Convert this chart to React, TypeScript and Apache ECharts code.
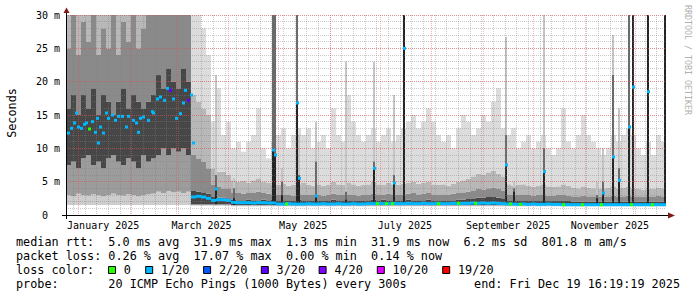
import React, { useEffect, useRef } from "react";
import * as echarts from "echarts";

// ---------- time frame ----------
const START_UTC = Date.UTC(2024, 11, 24, 16, 19, 19); // end - 360 days
const SPAN_DAYS = 360;
const BIN_DAYS = 3;
const monthStartDates = [
  "2025-01-01", "2025-02-01", "2025-03-01", "2025-04-01", "2025-05-01", "2025-06-01",
  "2025-07-01", "2025-08-01", "2025-09-01", "2025-10-01", "2025-11-01", "2025-12-01",
];
const firstWeekLineDate = "2024-12-29";
const axisLabelDates = ["2025-01-16", "2025-03-16", "2025-05-16", "2025-07-16", "2025-09-16", "2025-11-16"];
const axisLabelTexts = ["January 2025", "March 2025", "May 2025", "July 2025", "September 2025", "November 2025"];
const yLabelTicks = [0, 5, 10, 15, 20, 25, 30];

// ---------- smoke (ms), one value per 3-day bin ----------
const smokeMin = [
  1.5, 1.5, 1.5, 1.5, 1.5, 1.5, 1.5, 1.5, 1.5, 1.5,
  1.5, 1.5, 1.5, 1.5, 1.5, 1.5, 1.5, 1.5, 1.5, 1.5,
  1.5, 1.5, 1.5, 1.5, 1.5, 1.4, 1.4, 1.4, 1.4, 1.4,
  1.4, 1.4, 1.4, 1.3, 1.3, 1.3, 1.3, 1.3, 1.3, 1.3,
  1.3, 1.3, 1.3, 1.3, 1.3, 1.3, 1.3, 1.3, 1.3, 1.3,
  1.3, 1.3, 1.3, 1.3, 1.3, 1.3, 1.3, 1.3, 1.3, 1.3,
  1.3, 1.3, 1.3, 1.3, 1.3, 1.3, 1.3, 1.3, 1.3, 1.3,
  1.3, 1.3, 1.3, 1.3, 1.3, 1.3, 1.3, 1.3, 1.3, 1.3,
  1.3, 1.3, 1.3, 1.3, 1.3, 1.3, 1.3, 1.3, 1.3, 1.3,
  1.3, 1.3, 1.3, 1.3, 1.3, 1.3, 1.3, 1.3, 1.3, 1.3,
  1.3, 1.3, 1.3, 1.3, 1.3, 1.3, 1.3, 1.3, 1.3, 1.3,
  1.3, 1.3, 1.3, 1.3, 1.3, 1.3, 1.3, 1.3, 1.3, 1.3,
];
const smokeLow = [
  3.0, 2.8, 3.2, 3.0, 2.9, 3.1, 3.0, 2.8, 3.0, 3.2,
  3.0, 2.9, 3.1, 3.0, 2.8, 3.0, 3.1, 3.2, 3.5, 3.3,
  3.6, 3.4, 3.5, 3.3, 3.5, 1.5, 1.5, 1.5, 1.5, 1.5,
  1.5, 1.5, 1.5, 1.4, 1.4, 1.4, 1.4, 1.4, 1.4, 1.4,
  1.4, 1.4, 1.4, 1.4, 1.4, 1.4, 1.4, 1.4, 1.4, 1.4,
  1.4, 1.4, 1.4, 1.4, 1.4, 1.4, 1.4, 1.4, 1.4, 1.4,
  1.4, 1.4, 1.4, 1.4, 1.4, 1.4, 1.4, 1.4, 1.4, 1.4,
  1.4, 1.4, 1.4, 1.4, 1.4, 1.4, 1.4, 1.4, 1.4, 1.4,
  1.4, 1.4, 1.4, 1.4, 1.4, 1.4, 1.4, 1.4, 1.4, 1.4,
  1.4, 1.4, 1.4, 1.4, 1.4, 1.4, 1.4, 1.4, 1.4, 1.4,
  1.4, 1.4, 1.4, 1.4, 1.4, 1.4, 1.4, 1.4, 1.4, 1.4,
  1.4, 1.4, 1.4, 1.4, 1.4, 1.4, 1.4, 1.4, 1.4, 1.4,
];
const smokeCoreLow = [
  7.5, 8, 7, 8.5, 9, 7.5, 8, 7, 8.5, 9,
  8, 7.5, 8.5, 8, 7, 9, 8, 8.5, 9, 10,
  9, 10, 9.5, 10, 9, 1.6, 1.6, 1.6, 1.6, 1.6,
  1.6, 1.6, 1.6, 1.5, 1.5, 1.5, 1.5, 1.5, 1.5, 1.5,
  1.5, 1.5, 1.5, 1.5, 1.5, 1.5, 1.5, 1.5, 1.5, 1.5,
  1.5, 1.5, 1.5, 1.5, 1.5, 1.5, 1.5, 1.5, 1.5, 1.5,
  1.5, 1.5, 1.5, 1.5, 1.5, 1.5, 1.5, 1.5, 1.5, 1.5,
  1.5, 1.5, 1.5, 1.5, 1.5, 1.5, 1.5, 1.5, 1.5, 1.5,
  1.5, 1.5, 1.5, 1.5, 1.5, 1.5, 1.5, 1.5, 1.5, 1.5,
  1.5, 1.5, 1.5, 1.5, 1.5, 1.5, 1.5, 1.5, 1.5, 1.5,
  1.5, 1.5, 1.5, 1.5, 1.5, 1.5, 1.5, 1.5, 1.5, 1.5,
  1.5, 1.5, 1.5, 1.5, 1.5, 1.5, 1.5, 1.5, 1.5, 1.5,
];
const smokeCoreHigh = [
  16, 18, 15, 18, 16, 19, 15, 18, 17, 15,
  17, 19, 16, 18, 17, 16, 17, 18, 21, 19,
  22, 20, 19, 22, 20, 3.6, 3.5, 3.4, 3.2, 2.7,
  2.6, 2.6, 2.5, 2.3, 2.2, 2.2, 2.3, 2.2, 2.2, 2.3,
  2.2, 2.3, 2.2, 2.2, 2.2, 2.2, 2.3, 2.2, 2.2, 2.2,
  2.2, 2.2, 2.2, 2.3, 2.2, 2.2, 2.2, 2.2, 2.2, 2.2,
  2.2, 2.3, 2.2, 2.3, 2.2, 2.2, 2.2, 2.2, 2.3, 2.2,
  2.2, 2.2, 2.3, 2.2, 2.2, 2.2, 2.2, 2.2, 2.3, 2.3,
  2.4, 2.5, 2.6, 2.6, 2.7, 2.7, 2.6, 2.5, 2.2, 2.2,
  2.2, 2.2, 2.2, 2.2, 2.2, 2.2, 2.1, 2.1, 2.1, 2.1,
  2.1, 2.0, 2.0, 2.0, 2.0, 2.0, 2.0, 2.0, 2.0, 2.0,
  2.0, 2.0, 2.0, 2.0, 2.0, 2.0, 2.0, 2.0, 2.0, 2.0,
];
const smokeMidHigh = [
  25, 30, 24, 29, 26, 31, 24, 28, 25, 30,
  24, 29, 26, 31, 25, 28, 30, 31, 31, 31,
  31, 31, 31, 31, 31, 9, 8.5, 8, 7, 4.5,
  4.2, 4, 4, 3.4, 3.3, 3.2, 3.4, 3.3, 3.5, 3.3,
  3.2, 3.1, 3.0, 3.1, 3.0, 2.9, 3.1, 3.0, 3.0, 3.1,
  3.0, 2.9, 3.0, 3.2, 3.0, 3.0, 3.1, 3.0, 2.9, 3.0,
  3.0, 3.2, 3.1, 3.0, 3.2, 3.1, 3.0, 3.1, 3.2, 3.3,
  3.1, 3.2, 3.3, 3.1, 3.0, 3.1, 3.0, 3.2, 3.3, 3.4,
  3.5, 3.7, 3.9, 3.8, 4.0, 4.1, 3.9, 3.6, 3.1, 3.0,
  3.0, 3.1, 3.0, 2.9, 3.0, 3.1, 2.9, 2.9, 3.0, 3.0,
  2.9, 2.8, 2.8, 2.9, 2.8, 2.8, 2.7, 2.8, 2.8, 2.9,
  2.8, 2.8, 2.9, 2.8, 2.8, 2.7, 2.8, 2.8, 2.9, 2.8,
];
const smokeSoftHigh = [
  31, 31, 31, 31, 31, 31, 31, 31, 31, 31,
  31, 31, 31, 31, 31, 31, 31, 31, 32, 32,
  32, 32, 32, 32, 32, 18, 17, 16, 15, 7,
  6.5, 6.5, 6, 5.2, 5.0, 5.1, 4.8, 5.2, 5.5, 5.0,
  4.8, 4.6, 4.5, 4.7, 4.4, 4.5, 4.6, 4.8, 4.5, 4.4,
  4.6, 4.4, 4.5, 5.0, 4.6, 4.5, 4.8, 4.6, 4.4, 4.5,
  4.6, 5.0, 4.6, 4.5, 4.8, 4.6, 4.5, 4.7, 4.8, 5.0,
  4.7, 4.8, 5.0, 4.6, 4.5, 4.6, 4.4, 4.7, 5.0, 5.2,
  5.4, 5.8, 6.2, 6.0, 6.4, 6.6, 6.2, 5.8, 4.6, 4.4,
  4.5, 4.6, 4.4, 4.2, 4.4, 4.6, 4.3, 4.2, 4.3, 4.6,
  4.4, 4.1, 4.0, 4.3, 4.1, 4.0, 3.9, 4.0, 4.1, 4.3,
  4.0, 4.1, 4.2, 4.0, 3.9, 3.8, 4.0, 3.9, 4.1, 4.0,
];
const smokeMax = [
  33, 33, 33, 33, 33, 33, 33, 33, 33, 33,
  33, 33, 33, 33, 33, 33, 33, 33, 33, 33,
  33, 33, 33, 33, 33, 31, 31, 28, 24, 14,
  19, 12, 14, 10, 11, 9.5, 11, 12, 16, 10,
  8.5, 11, 12, 13, 10, 12, 13, 12, 13, 10,
  11, 12, 10, 16, 12, 11, 18, 14, 12, 11,
  12, 13, 11, 12, 13, 11, 12, 13, 14, 15,
  13, 14, 16, 14, 12, 11, 12, 10, 13, 15,
  14, 12, 13, 15, 14, 17, 19, 13, 12, 13,
  10, 11, 12, 10, 11, 12, 10, 9, 10, 16,
  11, 10, 12, 15, 12, 11, 10, 9, 10, 12,
  11, 12, 13, 12, 10, 9, 11, 9, 12, 11,
];

// ---------- median rtt (ms) per bin, loss 1/20 ----------
const medianLine = [
  null, null, null, null, null, null, null, null, null, null,
  null, null, null, null, null, null, null, null, null, null,
  null, null, null, null, null, 2.7, 2.8, 2.7, 2.5, 2.2,
  2.3, 2.3, 2.2, 1.9, 1.85, 1.85, 1.85, 1.8, 1.85, 1.85,
  1.8, 1.8, 1.65, 1.65, 1.7, 1.65, 1.65, 1.65, 1.7, 1.65,
  1.65, 1.7, 1.65, 1.65, 1.7, 1.65, 1.65, 1.7, 1.65, 1.65,
  1.7, 1.7, 1.75, 1.7, 1.7, 1.75, 1.7, 1.7, 1.75, 1.7,
  1.7, 1.75, 1.7, 1.7, 1.75, 1.7, 1.7, 1.75, 1.7, 1.75,
  1.75, 1.8, 1.75, 1.8, 1.75, 1.8, 1.75, 1.7, 1.65, 1.65,
  1.6, 1.65, 1.6, 1.65, 1.6, 1.6, 1.65, 1.6, 1.6, 1.55,
  1.55, 1.55, 1.55, 1.55, 1.55, 1.55, 1.55, 1.55, 1.55, 1.55,
  1.55, 1.55, 1.55, 1.55, 1.55, 1.55, 1.55, 1.55, 1.55, 1.55,
];
const medianLineLoss = 1;

// ---------- individual median samples (day, ms, loss level index) ----------
const medianDotDays = [
  1.2, 3.0, 4.8, 6.0, 7.2, 9.0, 10.8, 12.0, 13.8, 15.6, 17.4, 18.6, 19.2, 20.4, 22.2, 24.0,
  25.2, 27.6, 29.4, 31.2, 33.6, 36.0, 37.2, 40.2, 42.0, 43.2, 44.4, 46.2, 49.2, 51.6, 52.2,
  54.6, 56.4, 58.8, 60.6, 62.4, 64.2, 66.0, 68.4, 70.2, 71.4, 73.2, 75.0, 76.2,
  132.0, 186.6, 192.0, 195.6, 223.2, 235.2, 245.4, 266.4, 272.4, 298.2, 309.6, 321.0, 339.0, 351.6,
];
const medianDotValues = [
  12.3, 13.0, 13.8, 15.3, 13.2, 13.0, 13.6, 13.8, 12.9, 14.0, 12.4, 14.5, 10.8, 13.2, 12.3, 15.3,
  14.5, 15.0, 14.2, 14.8, 14.8, 13.2, 14.8, 14.2, 13.8, 12.4, 14.5, 14.7, 14.2, 15.5, 15.3,
  17.4, 17.7, 17.2, 19.0, 18.7, 17.4, 14.5, 15.2, 16.8, 18.7, 17.2, 18.0, 10.8,
  1.65, 1.7, 1.7, 1.7, 1.7, 1.75, 1.75, 1.65, 1.6, 1.55, 1.55, 1.55, 1.55, 1.55,
];
const medianDotLoss = [
  1, 1, 1, 1, 1, 1, 1, 1, 0, 1, 1, 1, 1, 1, 1, 1,
  1, 1, 1, 1, 1, 1, 1, 1, 1, 1, 1, 1, 1, 1, 1,
  1, 1, 1, 1, 3, 1, 1, 1, 1, 1, 3, 1, 1,
  0, 0, 0, 0, 0, 0, 0, 0, 0, 0, 0, 0, 0, 0,
];

// ---------- short bursts (day, light top, mid top, dark top, median) ----------
const spikeDays = [90.0, 100.8, 124.2, 125.4, 129.6, 138.6, 139.8, 150.0, 168.0, 184.8, 196.8, 202.8,
  263.7, 268.8, 286.8, 318.6, 321.9, 327.9, 331.8, 337.5, 340.2, 349.2, 359.4];
const spikeTop = [21, 5.5, 31, 31, 7, 31, 12, 14, 23, 23, 18, 31, 26.7, 5, 31, 5, 10, 27, 16, 31, 31, 31, 31];
const spikeMid = [6, 4, 31, 31, 5, 31, 6, 8, 3.5, 8, 6, 31, 12, 4, 10, 3, 5, 21, 7, 31, 31, 31, 31];
const spikeDark = [4, 2.5, 10, 9, 3, 17, 5.5, 3, 2.3, 7, 4.8, 31, 7.5, 3.5, 6.5, 2.5, 3.3, 8.7, 5.2, 13, 31, 31, 31];
const spikeMedian = [3.9, null, 9.75, 9, null, 16.8, 5.5, 2.85, null, 7, 4.8, 25, 7.5, null, 6.5, null, 3.3, 8.7, 5.2, 13.2, 19.2, 18.5, 31.9];

// ---------- legend ----------
const lossLabels = ["0", "1/20", "2/20", "3/20", "4/20", "10/20", "19/20"];
const lossColors = ["#26ff00", "#00b8ff", "#0059ff", "#5e00ff", "#7e00ff", "#dd00ff", "#ff0000"];
const legendLine1 = "median rtt:  5.0 ms avg  31.9 ms max  1.3 ms min  31.9 ms now  6.2 ms sd  801.8 m am/s";
const legendLine2 = "packet loss: 0.26 % avg  17.07 % max  0.00 % min  0.14 % now";
const legendLine3Head = "loss color:";
const legendLine4 = "probe:       20 ICMP Echo Pings (1000 Bytes) every 300s";
const endLabel = "end: Fri Dec 19 16:19:19 2025";
const watermark = "RRDTOOL / TOBI OETIKER";
const unitLabel = "Seconds";

// ---------- derived ----------
const dayOf = (iso: string) => (Date.parse(iso + "T00:00:00Z") - START_UTC) / 86400000;
const monthDays = monthStartDates.map(dayOf);
const labelDays = axisLabelDates.map(dayOf);
const weekDays: number[] = [];
for (let d = dayOf(firstWeekLineDate); d < SPAN_DAYS; d += 7) weekDays.push(d);

const MONO = "DejaVu Sans Mono";
const bandColors = ["#cdcdcd", "#9c9c9c", "#474747", "#8a8a8a", "#b8b8b8", "#dcdcdc"];

const smokeData = smokeMin.map((_, i) => [
  i * BIN_DAYS, (i + 1) * BIN_DAYS,
  smokeMin[i], smokeLow[i], smokeCoreLow[i], smokeCoreHigh[i], smokeMidHigh[i], smokeSoftHigh[i], smokeMax[i],
]);
const medianLineData = medianLine
  .map((v, i) => (v == null ? null : [i * BIN_DAYS, (i + 1) * BIN_DAYS, v, medianLineLoss]))
  .filter((d) => d) as number[][];
const spikeData = spikeDays.map((d, i) => [d, smokeCoreLow[Math.floor(d / BIN_DAYS)], spikeTop[i], spikeMid[i], spikeDark[i]]);
const dotData: number[][] = medianDotDays.map((d, i) => [d, medianDotValues[i], medianDotLoss[i]]);
spikeDays.forEach((d, i) => {
  if (spikeMedian[i] != null) dotData.push([d, spikeMedian[i] as number, 1]);
});

function buildOption(): any {
  const legendItemX = [108.5, 145.7, 203.6, 261.3, 319.1, 377.3, 442.7];
  const font = `11.8px "${MONO}"`;
  const legendGraphics: any[] = [];
  legendGraphics.push({ type: "text", x: 16, y: 242, style: { text: legendLine1, font, fill: "#000", verticalAlign: "middle" } });
  legendGraphics.push({ type: "text", x: 16, y: 256, style: { text: legendLine2, font, fill: "#000", verticalAlign: "middle" } });
  legendGraphics.push({ type: "text", x: 16, y: 270, style: { text: legendLine3Head, font, fill: "#000", verticalAlign: "middle" } });
  lossLabels.forEach((lab, i) => {
    legendGraphics.push({ type: "rect", shape: { x: legendItemX[i], y: 266.5, width: 7, height: 7 }, style: { fill: lossColors[i], stroke: "#000", lineWidth: 1 } });
    legendGraphics.push({ type: "text", x: legendItemX[i] + 15.3, y: 270, style: { text: lab, font, fill: "#000", verticalAlign: "middle" } });
  });
  legendGraphics.push({ type: "text", x: 16, y: 284, style: { text: legendLine4, font, fill: "#000", verticalAlign: "middle" } });
  legendGraphics.push({ type: "text", x: 680, y: 284, style: { text: endLabel, font, fill: "#000", align: "right", verticalAlign: "middle" } });

  const frameGraphics: any[] = [
    { type: "line", shape: { x1: 62, y1: 215.5, x2: 669, y2: 215.5 }, style: { stroke: "#000", lineWidth: 1 }, z: 10 },
    { type: "line", shape: { x1: 66.5, y1: 12, x2: 66.5, y2: 219 }, style: { stroke: "#000", lineWidth: 1 }, z: 10 },
    { type: "polygon", shape: { points: [[63.5, 13], [66.5, 7.5], [69.5, 13]] }, style: { fill: "#7f1a1a" }, z: 10 },
    { type: "polygon", shape: { points: [[668, 212.5], [675, 215.5], [668, 218.5]] }, style: { fill: "#7f1a1a" }, z: 10 },
    { type: "text", x: 12, y: 113, rotation: Math.PI / 2, style: { text: unitLabel, font, fill: "#000", align: "center", verticalAlign: "middle" } },
    { type: "text", x: 688, y: 60, rotation: -Math.PI / 2, style: { text: watermark, font: `8.3px "${MONO}"`, fill: "#b0b0b0", align: "center", verticalAlign: "middle" } },
  ];

  const minorLine = { color: "rgba(128,128,128,0.42)", type: [1, 1], width: 1 };
  const majorLine = { color: "rgba(255,64,64,0.42)", type: [1, 1], width: 1 };

  return {
    animation: false,
    backgroundColor: "#ffffff",
    grid: { left: 66, top: 15, width: 600, height: 200, containLabel: false },
    xAxis: [
      {
        type: "value", min: 0, max: SPAN_DAYS, position: "bottom", z: 3,
        axisLine: { show: false }, axisTick: { show: false }, splitLine: { show: false },
        axisLabel: {
          customValues: labelDays,
          formatter: (v: number) => {
            const k = labelDays.findIndex((d) => Math.abs(d - v) < 0.01);
            return k >= 0 ? axisLabelTexts[k] : "";
          },
          fontFamily: MONO, fontSize: 10, color: "#000", margin: 5,
        },
      },
      {
        type: "value", min: 0, max: SPAN_DAYS, position: "bottom", z: 3,
        axisLine: { show: false }, axisLabel: { show: false },
        axisTick: { show: false, customValues: weekDays },
        splitLine: { show: true, lineStyle: minorLine },
      },
      {
        type: "value", min: 0, max: SPAN_DAYS, position: "bottom", z: 3,
        axisLine: { show: false }, axisLabel: { show: false },
        axisTick: { show: false, customValues: monthDays },
        splitLine: { show: true, lineStyle: majorLine },
      },
    ],
    yAxis: [
      {
        type: "value", min: 0, max: 30, interval: 1, position: "left", z: 3,
        axisLine: { show: false }, axisTick: { show: false }, axisLabel: { show: false },
        splitLine: { show: true, lineStyle: minorLine },
      },
      {
        type: "value", min: 0, max: 30, interval: 5, position: "left", z: 3,
        axisLine: { show: false }, axisTick: { show: false },
        axisLabel: {
          customValues: yLabelTicks,
          formatter: (v: number) => (v === 0 ? "0  " : `${v} m`),
          fontFamily: MONO, fontSize: 10, color: "#000", margin: 6,
        },
        splitLine: { show: true, lineStyle: majorLine },
      },
    ],
    series: [
      {
        type: "custom", name: "smoke", xAxisIndex: 0, yAxisIndex: 1, z: 1, clip: true, silent: true,
        encode: { x: [0, 1], y: [2, 3, 4, 5, 6, 7, 8] },
        data: smokeData,
        renderItem: (_p: any, api: any) => {
          const d0 = api.value(0), d1 = api.value(1);
          const x0 = Math.round(api.coord([d0, 0])[0]);
          const x1 = Math.round(api.coord([d1, 0])[0]);
          const children: any[] = [];
          for (let k = 0; k < 6; k++) {
            const yLo = api.coord([d0, api.value(2 + k)])[1];
            const yHi = api.coord([d0, api.value(3 + k)])[1];
            if (yLo - yHi <= 0) continue;
            children.push({ type: "rect", shape: { x: x0, y: yHi, width: x1 - x0, height: yLo - yHi }, style: { fill: bandColors[k] } });
          }
          return { type: "group", children };
        },
      },
      {
        type: "custom", name: "bursts", xAxisIndex: 0, yAxisIndex: 1, z: 2, clip: true, silent: true,
        encode: { x: 0, y: [1, 2, 3, 4] },
        data: spikeData,
        renderItem: (_p: any, api: any) => {
          const d = api.value(0);
          const base = api.coord([d, api.value(1)]);
          const x = Math.round(base[0]) - 1;
          const yTop = api.coord([d, api.value(2)])[1];
          const yMid = api.coord([d, api.value(3)])[1];
          const yDark = api.coord([d, api.value(4)])[1];
          const yb = base[1];
          return {
            type: "group",
            children: [
              { type: "rect", shape: { x, y: yTop, width: 2, height: yb - yTop }, style: { fill: "#c4c4c4" } },
              { type: "rect", shape: { x, y: yMid, width: 2, height: yb - yMid }, style: { fill: "#6a6a6a" } },
              { type: "rect", shape: { x, y: yDark, width: 2, height: yb - yDark }, style: { fill: "#242424" } },
            ],
          };
        },
      },
      {
        type: "custom", name: "median", xAxisIndex: 0, yAxisIndex: 1, z: 5, clip: true, silent: true,
        encode: { x: [0, 1], y: 2 },
        data: medianLineData,
        renderItem: (_p: any, api: any) => {
          const d0 = api.value(0), d1 = api.value(1);
          const p0 = api.coord([d0, api.value(2)]);
          const x1 = Math.round(api.coord([d1, 0])[0]);
          const x0 = Math.round(p0[0]);
          return { type: "rect", shape: { x: x0, y: p0[1] - 1.5, width: x1 - x0, height: 3 }, style: { fill: lossColors[api.value(3)] } };
        },
      },
      {
        type: "custom", name: "median samples", xAxisIndex: 0, yAxisIndex: 1, z: 6, clip: true, silent: true,
        encode: { x: 0, y: 1 },
        data: dotData,
        renderItem: (_p: any, api: any) => {
          const p = api.coord([api.value(0), api.value(1)]);
          return { type: "rect", shape: { x: Math.round(p[0]) - 1, y: p[1] - 1.5, width: 3, height: 3 }, style: { fill: lossColors[api.value(2)] } };
        },
      },
    ],
    graphic: [...frameGraphics, ...legendGraphics],
  };
}

export default function App() {
  const ref = useRef<HTMLDivElement>(null);
  useEffect(() => {
    const chart = echarts.init(ref.current!, undefined, { renderer: "svg" });
    chart.setOption(buildOption());
    return () => chart.dispose();
  }, []);
  return (
    <div
      ref={ref}
      style={{ position: "fixed", left: 0, top: 0, width: 697, height: 297, background: "#fff" }}
    />
  );
}
